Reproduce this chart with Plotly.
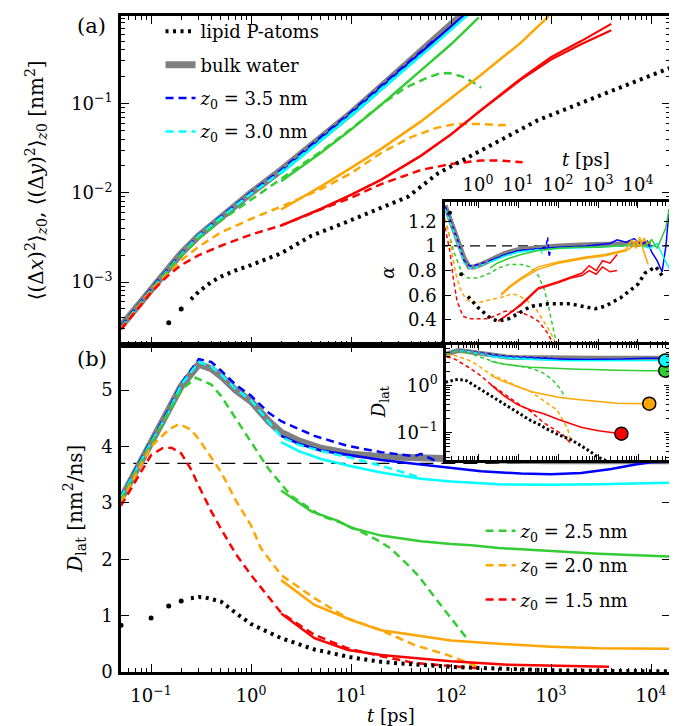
import plotly.graph_objects as go

FONT = "DejaVu Serif"
FS = 18

GRAY = "#808080"
BLUE = "#0000ff"
CYAN = "#00ffff"
GREEN = "#33cc33"
ORANGE = "#ffa500"
RED = "#ff0000"

# ---------------- panel (a): lateral MSD [nm^2] vs t [ps] ----------------
A_GRAY_T = [0.05, 0.07, 0.1, 0.15, 0.2, 0.3, 0.5, 0.7, 1, 2, 5, 10, 20, 50, 110, 130]
A_GRAY_Y = [3.2e-4, 5.1e-4, 8.3e-4, 1.4e-3, 2.1e-3, 3.3e-3, 5.3e-3, 7.2e-3, 0.0100, 0.018, 0.041, 0.078, 0.154, 0.38, 0.84, 1.0]

A_BLUE_D_T = [0.05, 0.1, 0.2, 0.3, 0.5, 1, 2, 5, 10, 20, 43, 69]
A_BLUE_D_Y = [3.2e-4, 8.4e-4, 2.1e-3, 3.35e-3, 5.4e-3, 0.0101, 0.018, 0.042, 0.08, 0.157, 0.33, 0.52]
A_BLUE_S_T = [2, 5, 10, 20, 50, 100, 140]
A_BLUE_S_Y = [0.017, 0.040, 0.077, 0.152, 0.37, 0.74, 1.02]

A_CYAN_D_T = [0.05, 0.1, 0.2, 0.3, 0.5, 1, 2, 5, 10, 20, 50]
A_CYAN_D_Y = [3.1e-4, 8.2e-4, 2.05e-3, 3.3e-3, 5.3e-3, 0.0098, 0.0172, 0.039, 0.075, 0.146, 0.35]
A_CYAN_S_T = [2, 5, 10, 20, 50, 100, 150]
A_CYAN_S_Y = [0.0165, 0.038, 0.073, 0.142, 0.34, 0.67, 1.0]

A_GREEN_D_T = [0.05, 0.1, 0.2, 0.3, 0.5, 1, 2, 5, 10, 20, 35, 55, 75, 95, 130, 170, 200]
A_GREEN_D_Y = [3.05e-4, 8.1e-4, 2.0e-3, 3.1e-3, 4.9e-3, 8.3e-3, 0.0143, 0.029, 0.052, 0.097, 0.15, 0.19, 0.215, 0.22, 0.20, 0.17, 0.15]
A_GREEN_S_T = [2, 5, 10, 20, 50, 100, 190]
A_GREEN_S_Y = [0.0135, 0.028, 0.051, 0.097, 0.235, 0.46, 0.92]

A_ORANGE_D_T = [0.05, 0.1, 0.2, 0.3, 0.5, 1, 2, 5, 10, 20, 40, 70, 110, 200, 300, 400]
A_ORANGE_D_Y = [3.0e-4, 8.0e-4, 1.75e-3, 2.5e-3, 3.6e-3, 5.1e-3, 7.0e-3, 0.011, 0.0165, 0.028, 0.042, 0.053, 0.059, 0.059, 0.057, 0.058]
A_ORANGE_S_T = [2, 5, 10, 20, 50, 100, 200, 500, 950]
A_ORANGE_S_Y = [6.5e-3, 0.0118, 0.019, 0.031, 0.063, 0.115, 0.21, 0.48, 0.95]

A_RED_D_T = [0.05, 0.1, 0.15, 0.2, 0.3, 0.5, 1, 2, 5, 10, 20, 50, 100, 200, 300, 520]
A_RED_D_Y = [2.95e-4, 7.7e-4, 1.2e-3, 1.55e-3, 2.0e-3, 2.55e-3, 3.4e-3, 4.3e-3, 6.5e-3, 8.8e-3, 0.0125, 0.018, 0.021, 0.023, 0.023, 0.022]
A_RED_S_T = [2, 5, 10, 20, 50, 100, 200, 500, 1000, 2000, 4000]
A_RED_SX_Y = [4.3e-3, 6.6e-3, 9.5e-3, 0.014, 0.026, 0.045, 0.085, 0.19, 0.33, 0.50, 0.78]
A_RED_SY_Y = [4.3e-3, 6.6e-3, 9.5e-3, 0.014, 0.026, 0.045, 0.084, 0.185, 0.31, 0.46, 0.66]

A_LIPID_EARLY_T = [0.15, 0.2]
A_LIPID_EARLY_Y = [3.5e-4, 5.0e-4]
A_LIPID_T = [0.25, 0.3, 0.4, 0.5, 0.7, 1, 2, 4, 7.4, 20, 37, 74, 200, 740, 3500, 15500]
A_LIPID_Y = [6.4e-4, 7.8e-4, 1.0e-3, 1.15e-3, 1.35e-3, 1.55e-3, 2.1e-3, 3.3e-3, 4.3e-3, 6.8e-3, 9.0e-3, 0.0165, 0.030, 0.065, 0.13, 0.25]

# ---------------- panel (b) and D inset: D_lat [nm^2/ns] ----------------
B_GRAY_T = [0.05, 0.07, 0.1, 0.15, 0.2, 0.3, 0.4, 0.5, 0.7, 1, 1.5, 2, 3, 5, 10, 20, 50, 100, 300, 1000, 3000, 15500, 63000]
B_GRAY_Y = [3.07, 3.55, 4.08, 4.6, 5.07, 5.46, 5.38, 5.25, 5.0, 4.8, 4.45, 4.25, 4.1, 3.97, 3.87, 3.82, 3.79, 3.77, 3.76, 3.75, 3.75, 3.75, 3.75]

B_BLUE_D_T = [0.05, 0.07, 0.1, 0.15, 0.2, 0.3, 0.4, 0.5, 0.7, 1, 1.5, 2, 4.3, 9.3, 20, 43, 50, 63, 69]
B_BLUE_D_Y = [3.1, 3.6, 4.1, 4.65, 5.12, 5.55, 5.5, 5.35, 5.1, 4.9, 4.6, 4.45, 4.19, 4.01, 3.9, 3.83, 3.87, 3.78, 3.75]
B_BLUE_S_T = [2, 3, 5, 10, 20, 50, 100, 200, 500, 1000, 2000, 4000, 7000, 10000, 15500, 63000]
B_BLUE_S_Y = [4.19, 4.05, 3.93, 3.85, 3.76, 3.68, 3.62, 3.56, 3.52, 3.51, 3.53, 3.6, 3.68, 3.72, 3.73, 3.74]

B_CYAN_D_T = [0.05, 0.07, 0.1, 0.15, 0.2, 0.3, 0.4, 0.5, 0.7, 1, 1.5, 2, 3, 5, 10, 20, 35, 50]
B_CYAN_D_Y = [3.1, 3.58, 4.08, 4.62, 5.1, 5.5, 5.42, 5.28, 5.02, 4.82, 4.45, 4.17, 4.03, 3.92, 3.8, 3.66, 3.53, 3.45]
B_CYAN_S_T = [2, 3, 5, 10, 20, 50, 100, 300, 1000, 3000, 15500, 48000]
B_CYAN_S_Y = [4.08, 3.92, 3.78, 3.65, 3.54, 3.43, 3.38, 3.33, 3.32, 3.33, 3.36, 3.37]

B_GREEN_D_T = [0.05, 0.07, 0.1, 0.15, 0.2, 0.28, 0.4, 0.5, 0.7, 1, 1.5, 2.5, 5, 7.4, 12.6, 18.7, 25, 40, 47, 74, 100, 148]
B_GREEN_D_Y = [3.05, 3.55, 4.05, 4.6, 5.0, 5.22, 5.1, 4.9, 4.5, 4.08, 3.6, 3.13, 2.77, 2.67, 2.49, 2.33, 2.19, 1.84, 1.71, 1.25, 0.95, 0.57]
B_GREEN_S_T = [2, 3, 4, 7.4, 10, 20, 35, 50, 100, 160, 300, 740, 1000, 3000, 15500, 48000]
B_GREEN_S_Y = [3.22, 3.0, 2.85, 2.68, 2.56, 2.42, 2.36, 2.32, 2.27, 2.25, 2.2, 2.16, 2.14, 2.1, 2.05, 2.05]

B_ORANGE_D_T = [0.05, 0.07, 0.1, 0.15, 0.19, 0.25, 0.3, 0.5, 0.7, 1, 1.26, 2, 4.3, 9.3, 20, 43, 93, 170, 200]
B_ORANGE_D_Y = [3.0, 3.5, 4.0, 4.3, 4.4, 4.3, 4.13, 3.55, 3.05, 2.6, 2.19, 1.72, 1.31, 0.95, 0.74, 0.48, 0.3, 0.12, 0.07]
B_ORANGE_S_T = [2, 4.3, 7.4, 10, 20, 43, 100, 300, 1000, 3000, 15500, 19000]
B_ORANGE_S_Y = [1.63, 1.19, 1.02, 0.92, 0.74, 0.65, 0.56, 0.5, 0.45, 0.42, 0.41, 0.41]

B_RED_D_T = [0.05, 0.07, 0.1, 0.13, 0.16, 0.2, 0.25, 0.3, 0.4, 0.5, 0.7, 1, 2, 4.3, 9.3, 20, 43, 130, 200]
B_RED_D_Y = [2.95, 3.4, 3.85, 3.97, 3.98, 3.88, 3.6, 3.3, 2.85, 2.54, 2.1, 1.72, 1.05, 0.66, 0.42, 0.28, 0.16, 0.09, 0.06]
B_RED_S_T = [2, 4.3, 9.3, 20, 43, 100, 370, 1000, 3800]
B_RED_S_Y = [1.04, 0.6, 0.39, 0.3, 0.25, 0.19, 0.13, 0.11, 0.095]

B_LIPID_EARLY_T = [0.05, 0.1, 0.15, 0.2]
B_LIPID_EARLY_Y = [0.83, 0.96, 1.17, 1.26]
B_LIPID_T = [0.25, 0.3, 0.35, 0.4, 0.5, 0.7, 1, 2, 4.3, 10, 20, 32, 50, 100, 210, 500, 1000, 3000, 15500]
B_LIPID_Y = [1.31, 1.33, 1.32, 1.3, 1.25, 1.05, 0.85, 0.6, 0.4, 0.26, 0.18, 0.15, 0.12, 0.09, 0.07, 0.045, 0.03, 0.02, 0.012]

D_LIMIT = 3.7
END_T = [3800, 19000, 48000, 48000]
END_D = [0.095, 0.41, 2.05, 3.37]
END_C = [RED, ORANGE, GREEN, CYAN]

# ---------------- alpha inset ----------------
G_GRAY_T = [0.15, 0.3, 0.45, 0.6, 0.8, 1.2, 2, 4.7, 10, 32, 100, 560, 3000, 10000, 21000]
G_GRAY_Y = [1.33, 1.06, 0.9, 0.83, 0.83, 0.85, 0.88, 0.94, 0.97, 0.99, 1.0, 1.01, 1.02, 1.02, 1.02]
G_BLUE_D_T = [0.15, 0.3, 0.45, 0.6, 0.8, 1.2, 2, 4.7, 10, 32, 50, 55, 60, 65]
G_BLUE_D_Y = [1.32, 1.06, 0.88, 0.84, 0.84, 0.86, 0.88, 0.93, 0.96, 0.98, 0.99, 1.07, 0.91, 0.97]
G_BLUE_S_T = [2, 5, 10, 50, 100, 500, 1000, 2000, 3000, 5000, 8000, 12000, 17000, 22000, 30000, 40000, 50000, 60000]
G_BLUE_S_Y = [0.88, 0.93, 0.96, 0.98, 0.99, 1.0, 1.01, 1.02, 1.05, 1.03, 1.06, 1.01, 1.04, 0.95, 0.88, 0.79, 1.0, 1.3]
G_CYAN_D_T = [0.15, 0.3, 0.45, 0.6, 0.8, 1.2, 2, 4.7, 10, 30, 38, 42]
G_CYAN_D_Y = [1.3, 1.04, 0.86, 0.82, 0.82, 0.84, 0.87, 0.92, 0.95, 0.97, 0.97, 0.91]
G_CYAN_S_T = [2, 5, 10, 50, 100, 1000, 5000, 10000, 20000, 30000, 45000, 60000]
G_CYAN_S_Y = [0.87, 0.92, 0.95, 0.97, 0.98, 0.99, 1.0, 1.01, 0.98, 1.02, 0.9, 0.82]
G_GREEN_D_T = [0.15, 0.25, 0.4, 0.56, 1, 2, 3.2, 6, 12, 20, 32, 45, 56, 70, 83, 100]
G_GREEN_D_Y = [1.22, 0.95, 0.78, 0.74, 0.74, 0.78, 0.82, 0.85, 0.85, 0.83, 0.76, 0.65, 0.53, 0.38, 0.26, 0.15]
G_GREEN_S_T = [2, 3, 6, 12, 30, 83, 300, 1000, 3000, 8000, 15000, 22000, 30000, 40000, 50000, 60000]
G_GREEN_S_Y = [0.82, 0.86, 0.9, 0.93, 0.96, 0.98, 0.99, 0.99, 1.0, 1.01, 1.0, 1.05, 0.98, 1.08, 1.15, 1.3]
G_ORANGE_D_T = [0.15, 0.2, 0.27, 0.35, 0.47, 0.67, 1, 2, 4.7, 6.8, 10, 18, 28, 38, 50, 67, 90]
G_ORANGE_D_Y = [1.22, 1.05, 0.79, 0.66, 0.58, 0.54, 0.54, 0.56, 0.59, 0.61, 0.6, 0.55, 0.49, 0.42, 0.36, 0.29, 0.2]
G_ORANGE_S_T = [3.8, 6, 12, 32, 100, 210, 500, 1500, 3000, 5000, 7000, 9000, 11000, 14000, 18000]
G_ORANGE_SX_Y = [0.61, 0.67, 0.74, 0.83, 0.87, 0.89, 0.91, 0.93, 0.95, 0.97, 1.05, 0.98, 1.07, 0.95, 0.85]
G_ORANGE_SY_Y = [0.6, 0.66, 0.73, 0.81, 0.86, 0.88, 0.9, 0.92, 0.94, 0.96, 0.99, 1.04, 1.0, 1.06, 1.02]
G_RED_D_T = [0.15, 0.2, 0.24, 0.3, 0.42, 0.6, 1, 1.8, 3, 4.7, 7, 12, 20, 32, 56, 75, 90]
G_RED_D_Y = [1.15, 0.95, 0.74, 0.55, 0.43, 0.41, 0.41, 0.41, 0.44, 0.47, 0.47, 0.46, 0.43, 0.39, 0.29, 0.21, 0.15]
G_RED_S_T = [3.2, 6, 12, 32, 100, 210, 400, 600, 900, 1300, 2000, 3000]
G_RED_SX_Y = [0.39, 0.45, 0.53, 0.66, 0.71, 0.75, 0.78, 0.84, 0.8, 0.88, 0.86, 0.93]
G_RED_SY_Y = [0.39, 0.45, 0.52, 0.65, 0.7, 0.74, 0.76, 0.8, 0.77, 0.83, 0.79, 0.8]
G_LIPID_EARLY_T = [0.2, 0.38]
G_LIPID_EARLY_Y = [1.27, 0.77]
G_LIPID_T = [0.56, 1, 2.1, 3.2, 6, 10, 21, 56, 200, 850, 1500, 3700, 10000, 15000, 28000, 42000]
G_LIPID_Y = [0.59, 0.5, 0.41, 0.39, 0.41, 0.45, 0.51, 0.53, 0.53, 0.49, 0.51, 0.58, 0.69, 0.78, 0.83, 0.75]

# ---------------- tick labels ----------------
T_TICKS = [0.1, 1, 10, 100, 1000, 10000]
T_TEXT = ["10<sup>−1</sup>", "10<sup>0</sup>", "10<sup>1</sup>", "10<sup>2</sup>", "10<sup>3</sup>", "10<sup>4</sup>"]
MSD_TICKS = [0.001, 0.01, 0.1]
MSD_TEXT = ["10<sup>−3</sup>", "10<sup>−2</sup>", "10<sup>−1</sup>"]
INSET_T_TICKS = [1, 10, 100, 1000, 10000]
INSET_T_TEXT = ["10<sup>0</sup>", "10<sup>1</sup>", "10<sup>2</sup>", "10<sup>3</sup>", "10<sup>4</sup>"]
DL_TICKS = [0.1, 1]
DL_TEXT = ["10<sup>−1</sup>", "10<sup>0</sup>"]
ALPHA_TICKS = [0.4, 0.6, 0.8, 1.0, 1.2]
ALPHA_TEXT = ["0.4", "0.6", "0.8", "1", "1.2"]

MINOR_LOG = [m * 10.0 ** e for e in range(-5, 6) for m in range(2, 10)]

fig = go.Figure()


def line(x, y, xa, ya, color, width, dash="solid", **kw):
    fig.add_trace(go.Scatter(x=x, y=y, xaxis=xa, yaxis=ya, mode="lines",
                             line=dict(color=color, width=width, dash=dash),
                             showlegend=kw.pop("showlegend", False), **kw))


def dots(x, y, xa, ya, size):
    fig.add_trace(go.Scatter(x=x, y=y, xaxis=xa, yaxis=ya, mode="markers",
                             marker=dict(color="black", size=size), showlegend=False))


MD = "8px,5px"
ID = "4px,3px"
DOT = "3px,4.5px"
Z = "<i>z</i><sub>0</sub> = "

# panel (a)
line(A_GRAY_T, A_GRAY_Y, "x", "y", GRAY, 7, name="bulk water", showlegend=True, legend="legend", legendrank=2, legendgroup="g2")
line(A_BLUE_S_T, A_BLUE_S_Y, "x", "y", BLUE, 2)
line(A_BLUE_D_T, A_BLUE_D_Y, "x", "y", BLUE, 2.5, MD, name=Z + "3.5 nm", showlegend=True, legend="legend", legendrank=3, legendgroup="g3")
line(A_CYAN_S_T, A_CYAN_S_Y, "x", "y", CYAN, 2.5)
line(A_CYAN_D_T, A_CYAN_D_Y, "x", "y", CYAN, 2.5, MD, name=Z + "3.0 nm", showlegend=True, legend="legend", legendrank=4, legendgroup="g4")
line(A_GREEN_S_T, A_GREEN_S_Y, "x", "y", GREEN, 2.5)
line(A_GREEN_D_T, A_GREEN_D_Y, "x", "y", GREEN, 2.5, MD)
line(A_ORANGE_S_T, A_ORANGE_S_Y, "x", "y", ORANGE, 2.5)
line(A_ORANGE_D_T, A_ORANGE_D_Y, "x", "y", ORANGE, 2.5, MD)
line(A_RED_S_T, A_RED_SX_Y, "x", "y", RED, 2.2)
line(A_RED_S_T, A_RED_SY_Y, "x", "y", RED, 2.2)
line(A_RED_D_T, A_RED_D_Y, "x", "y", RED, 2.5, MD)
line(A_LIPID_T, A_LIPID_Y, "x", "y", "black", 4, DOT, name="lipid P-atoms", showlegend=True, legend="legend", legendrank=1, legendgroup="g1")
dots(A_LIPID_EARLY_T, A_LIPID_EARLY_Y, "x", "y", 5)

# panel (b)
line([0.04, 20000], [D_LIMIT, D_LIMIT], "x2", "y2", "black", 1.3, "14px,8px")
line(B_GRAY_T, B_GRAY_Y, "x2", "y2", GRAY, 7)
line(B_BLUE_S_T, B_BLUE_S_Y, "x2", "y2", BLUE, 2.5)
line(B_BLUE_D_T, B_BLUE_D_Y, "x2", "y2", BLUE, 2.5, MD)
line(B_CYAN_S_T, B_CYAN_S_Y, "x2", "y2", CYAN, 2.5)
line(B_CYAN_D_T, B_CYAN_D_Y, "x2", "y2", CYAN, 2.5, MD)
line(B_GREEN_S_T, B_GREEN_S_Y, "x2", "y2", GREEN, 2.5)
line(B_GREEN_D_T, B_GREEN_D_Y, "x2", "y2", GREEN, 2.5, MD, name=Z + "2.5 nm", showlegend=True, legend="legend2", legendrank=1, legendgroup="h1")
line(B_ORANGE_S_T, B_ORANGE_S_Y, "x2", "y2", ORANGE, 2.5)
line(B_ORANGE_D_T, B_ORANGE_D_Y, "x2", "y2", ORANGE, 2.5, MD, name=Z + "2.0 nm", showlegend=True, legend="legend2", legendrank=2, legendgroup="h2")
line(B_RED_S_T, B_RED_S_Y, "x2", "y2", RED, 2.5)
line(B_RED_D_T, B_RED_D_Y, "x2", "y2", RED, 2.5, MD, name=Z + "1.5 nm", showlegend=True, legend="legend2", legendrank=3, legendgroup="h3")
line(B_LIPID_T, B_LIPID_Y, "x2", "y2", "black", 4, DOT)
dots(B_LIPID_EARLY_T, B_LIPID_EARLY_Y, "x2", "y2", 5)

# alpha inset
line([0.1, 1e5], [1, 1], "x3", "y3", "black", 1.2, "10px,6px")
line(G_GRAY_T, G_GRAY_Y, "x3", "y3", GRAY, 5)
line(G_BLUE_S_T, G_BLUE_S_Y, "x3", "y3", BLUE, 1.5)
line(G_BLUE_D_T, G_BLUE_D_Y, "x3", "y3", BLUE, 1.5, ID)
line(G_CYAN_S_T, G_CYAN_S_Y, "x3", "y3", CYAN, 1.5)
line(G_CYAN_D_T, G_CYAN_D_Y, "x3", "y3", CYAN, 1.5, ID)
line(G_GREEN_S_T, G_GREEN_S_Y, "x3", "y3", GREEN, 1.5)
line(G_GREEN_D_T, G_GREEN_D_Y, "x3", "y3", GREEN, 1.5, ID)
line(G_ORANGE_S_T, G_ORANGE_SX_Y, "x3", "y3", ORANGE, 1.5)
line(G_ORANGE_S_T, G_ORANGE_SY_Y, "x3", "y3", ORANGE, 1.5)
line(G_ORANGE_D_T, G_ORANGE_D_Y, "x3", "y3", ORANGE, 1.5, ID)
line(G_RED_S_T, G_RED_SX_Y, "x3", "y3", RED, 1.5)
line(G_RED_S_T, G_RED_SY_Y, "x3", "y3", RED, 1.5)
line(G_RED_D_T, G_RED_D_Y, "x3", "y3", RED, 1.5, ID)
line(G_LIPID_T, G_LIPID_Y, "x3", "y3", "black", 3.5, "3px,4px")
dots(G_LIPID_EARLY_T, G_LIPID_EARLY_Y, "x3", "y3", 4)

# D inset
line(B_GRAY_T, B_GRAY_Y, "x4", "y4", GRAY, 5)
line(B_BLUE_S_T, B_BLUE_S_Y, "x4", "y4", BLUE, 1.5)
line(B_BLUE_D_T, B_BLUE_D_Y, "x4", "y4", BLUE, 1.5, ID)
line(B_CYAN_S_T, B_CYAN_S_Y, "x4", "y4", CYAN, 1.5)
line(B_CYAN_D_T, B_CYAN_D_Y, "x4", "y4", CYAN, 1.5, ID)
line(B_GREEN_S_T, B_GREEN_S_Y, "x4", "y4", GREEN, 1.5)
line(B_GREEN_D_T, B_GREEN_D_Y, "x4", "y4", GREEN, 1.5, ID)
line(B_ORANGE_S_T, B_ORANGE_S_Y, "x4", "y4", ORANGE, 1.5)
line(B_ORANGE_D_T, B_ORANGE_D_Y, "x4", "y4", ORANGE, 1.5, ID)
line(B_RED_S_T, B_RED_S_Y, "x4", "y4", RED, 1.5)
line(B_RED_D_T, B_RED_D_Y, "x4", "y4", RED, 1.5, ID)
line(B_LIPID_EARLY_T + B_LIPID_T, B_LIPID_EARLY_Y + B_LIPID_Y, "x4", "y4", "black", 3, "2.5px,2.5px")
fig.add_trace(go.Scatter(x=END_T, y=END_D, xaxis="x4", yaxis="y4", mode="markers",
                         marker=dict(color=END_C, size=13, line=dict(color="black", width=1.5)),
                         showlegend=False))

AX = dict(showline=True, linecolor="black", linewidth=2.5, mirror="allticks",
          ticks="inside", ticklen=8, tickwidth=1.3, tickcolor="black",
          showgrid=False, zeroline=False,
          tickfont=dict(family=FONT, size=FS, color="black"))
LOGMINOR = dict(ticks="inside", ticklen=4, tickwidth=1, tickcolor="black",
                tickmode="array", tickvals=MINOR_LOG, showgrid=False)

XR = [-1.301, 4.19]
fig.update_layout(
    width=677, height=726,
    margin=dict(l=113, r=15, t=5, b=62),
    paper_bgcolor="white", plot_bgcolor="white",
    font=dict(family=FONT, size=FS, color="black"),
    xaxis=dict(AX, type="log", range=XR, domain=[0, 1], anchor="y",
               tickvals=T_TICKS, ticktext=T_TEXT, showticklabels=False, minor=LOGMINOR),
    yaxis=dict(AX, type="log", range=[-3.70, -0.02], domain=[0.4992, 1], anchor="x",
               tickvals=MSD_TICKS, ticktext=MSD_TEXT, minor=LOGMINOR, ticklabelstandoff=2),
    xaxis2=dict(AX, type="log", range=XR, domain=[0, 1], anchor="y2",
                tickvals=T_TICKS, ticktext=T_TEXT, minor=LOGMINOR, matches="x", ticklabelstandoff=6),
    yaxis2=dict(AX, range=[0, 5.81], domain=[0, 0.4992], anchor="x2", dtick=1, ticklabelstandoff=2),
    xaxis3=dict(AX, type="log", range=[-0.825, 4.8], domain=[0.5902, 1], anchor="y3",
                side="top", tickvals=INSET_T_TICKS, ticktext=INSET_T_TEXT, minor=LOGMINOR, ticklen=6,
                ticklabelstandoff=1),
    yaxis3=dict(AX, range=[0.2, 1.355], domain=[0.4992, 0.7162], anchor="x3",
                tickvals=ALPHA_TICKS, ticktext=ALPHA_TEXT, ticklen=6, ticklabelstandoff=2),
    xaxis4=dict(AX, type="log", range=[-0.825, 4.8], domain=[0.592, 1], anchor="y4",
                tickvals=INSET_T_TICKS, showticklabels=False, minor=LOGMINOR, ticklen=6),
    yaxis4=dict(AX, type="log", range=[-1.58, 0.865], domain=[0.3232, 0.4992], anchor="x4",
                tickvals=DL_TICKS, ticktext=DL_TEXT, minor=LOGMINOR, ticklen=6, ticklabelstandoff=2),
    legend=dict(x=0.072, y=1.0045, xanchor="left", yanchor="top", bgcolor="rgba(0,0,0,0)",
                font=dict(family=FONT, size=FS), tracegroupgap=7),
    legend2=dict(x=0.655, y=0.243, xanchor="left", yanchor="top", bgcolor="rgba(0,0,0,0)",
                 font=dict(family=FONT, size=FS), tracegroupgap=8),
)

ann = [
    dict(text="(a)", x=-0.053, y=0.985, size=21),
    dict(text="(b)", x=-0.053, y=0.477, size=21),
    dict(text="<i>t</i> [ps]", x=0.847, y=0.781, size=FS),
    dict(text="<i>t</i> [ps]", x=0.4918, y=-0.0668, size=FS),
    dict(text="<i>α</i>", x=0.4863, y=0.6085, textangle=-90, size=FS),
    dict(text="<i>D</i><sub>lat</sub>", x=0.4718, y=0.4112, textangle=-90, size=FS),
    dict(text="⟨(Δ<i>x</i>)<sup>2</sup>⟩<sub><i>z</i>0</sub>, ⟨(Δ<i>y</i>)<sup>2</sup>⟩<sub><i>z</i>0</sub> [nm<sup>2</sup>]",
         x=-0.1548, y=0.7496, textangle=-90, size=20),
    dict(text="<i>D</i><sub>lat</sub> [nm<sup>2</sup>/ns]", x=-0.0838, y=0.2489, textangle=-90, size=20),
]
for a in ann:
    sz = a.pop("size")
    fig.add_annotation(xref="paper", yref="paper", showarrow=False, xanchor="center", yanchor="middle",
                       font=dict(family=FONT, size=sz, color="black"), **a)

fig.write_html("out.html")
